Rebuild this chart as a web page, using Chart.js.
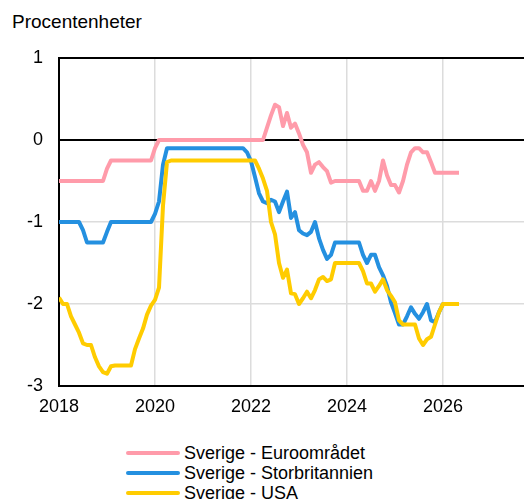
<!DOCTYPE html>
<html>
<head>
<meta charset="utf-8">
<script src="https://cdn.jsdelivr.net/npm/chart.js@4/dist/chart.umd.min.js"></script>
<style>
  html, body { margin: 0; padding: 0; background: #fff; overflow: hidden; }
  body { width: 524px; height: 499px; position: relative; font-family: "Liberation Sans", Arial, sans-serif; }
  #ytitle { position: absolute; left: 12px; top: 12px; font-size: 19px; line-height: 19px; color: #000; white-space: nowrap; }
  #chart { position: absolute; left: 0; top: 0; }
  #legend { position: absolute; left: 126px; top: 443px; }
  .row { display: flex; align-items: center; height: 20px; }
  .sw { width: 54px; height: 4px; margin-right: 4px; border-radius: 2px; }
  .lbl { font-size: 18px; line-height: 20px; color: #000; white-space: nowrap; }
</style>
</head>
<body>
<div id="ytitle">Procentenheter</div>
<canvas id="chart" width="524" height="440"></canvas>
<div id="legend"></div>
<script>
// Monthly observations, January 2018 to May 2026
const startYear = 2018;
const months = [];
for (let i = 0; i <= 100; i++) months.push(startYear + i / 12);

const seriesNames = ["Sverige - Euroområdet", "Sverige - Storbritannien", "Sverige - USA"];
const seriesColors = ["#FF9BAA", "#2490E0", "#FFCC00"];

const euroValues = [
  -0.5,-0.5,-0.5,-0.5,-0.5,-0.5,-0.5,-0.5,-0.5,-0.5,-0.5,-0.5,
  -0.35,
  -0.25,-0.25,-0.25,-0.25,-0.25,-0.25,-0.25,-0.25,-0.25,-0.25,-0.25,
  -0.1,
  0,0,0,0,0,0,0,0,0,0,0,0,0,0,0,0,0,0,0,0,0,0,0,0,0,0,0,
  0.15,0.3,0.43,0.4,0.17,0.33,0.15,0.2,0.08,-0.06,-0.15,-0.4,-0.3,-0.27,-0.33,-0.38,-0.52,-0.5,
  -0.5,-0.5,-0.5,-0.5,-0.5,-0.5,
  -0.62,-0.62,-0.5,-0.62,-0.5,-0.25,-0.43,-0.55,-0.55,-0.64,-0.5,-0.3,-0.15,-0.1,-0.1,-0.15,-0.15,-0.27,-0.4,
  -0.4,-0.4,-0.4,-0.4,-0.4,-0.4
];

const ukValues = [
  -1,-1,-1,-1,-1,-1,
  -1.1,-1.25,
  -1.25,-1.25,-1.25,-1.25,
  -1.12,
  -1,-1,-1,-1,-1,-1,-1,-1,-1,-1,-1,
  -0.9,-0.75,-0.3,-0.1,
  -0.1,-0.1,-0.1,-0.1,-0.1,-0.1,-0.1,-0.1,-0.1,-0.1,-0.1,-0.1,-0.1,-0.1,-0.1,-0.1,-0.1,-0.1,-0.1,
  -0.15,-0.26,-0.45,-0.65,-0.75,-0.77,-0.73,-0.75,-0.88,-0.75,-0.63,-0.95,-0.88,-1.1,-1.14,-1.16,-1.12,-1.0,-1.2,-1.34,-1.45,-1.4,-1.25,
  -1.25,-1.25,-1.25,-1.25,-1.25,-1.25,
  -1.4,-1.5,-1.4,-1.4,-1.55,-1.65,-1.78,-1.98,-2.11,-2.25,-2.25,-2.15,-2.04,-2.12,-2.18,-2.1,-2.0,-2.2,-2.22,-2.1,-2.0,
  -2.0,-2.0,-2.0,-2.0
];

const usaValues = [
  -1.92,-2.0,-2.0,-2.15,-2.25,-2.35,-2.48,-2.5,-2.5,-2.65,-2.76,-2.83,-2.85,-2.76,
  -2.75,-2.75,-2.75,-2.75,-2.75,
  -2.55,-2.42,-2.3,-2.13,-2.02,-1.95,-1.8,-0.8,-0.27,
  -0.25,-0.25,-0.25,-0.25,-0.25,-0.25,-0.25,-0.25,-0.25,-0.25,-0.25,-0.25,-0.25,-0.25,-0.25,-0.25,-0.25,-0.25,-0.25,-0.25,-0.25,-0.25,
  -0.35,-0.47,-0.62,-1.0,-1.15,-1.5,-1.68,-1.58,-1.87,-1.88,-2.0,-1.93,-1.85,-1.93,-1.83,-1.7,-1.67,-1.72,-1.7,-1.5,
  -1.5,-1.5,-1.5,-1.5,-1.5,-1.5,
  -1.6,-1.75,-1.75,-1.85,-1.78,-1.7,-1.83,-1.9,-1.98,-2.2,
  -2.25,-2.25,-2.25,-2.25,
  -2.42,-2.5,-2.43,-2.4,-2.25,-2.1,-2.0,
  -2.0,-2.0,-2.0,-2.0
];

const xTicks = [2018, 2020, 2022, 2024, 2026];
const yTicks = [-3, -2, -1, 0, 1];

const allValues = [euroValues, ukValues, usaValues];
const drawOrder = [3, 2, 1];

const datasets = allValues.map((vals, k) => ({
  label: seriesNames[k],
  data: vals.map((v, i) => ({ x: months[i], y: v })),
  borderColor: seriesColors[k],
  backgroundColor: seriesColors[k],
  borderWidth: 4,
  pointRadius: 0,
  tension: 0,
  borderJoinStyle: 'round',
  order: drawOrder[k]
}));

const tickFont = { family: "'Liberation Sans', Arial, sans-serif", size: 18 };

new Chart(document.getElementById('chart'), {
  type: 'line',
  data: { datasets },
  options: {
    responsive: false,
    animation: false,
    layout: { padding: { top: 58, right: 0, left: 0, bottom: 0 } },
    plugins: { legend: { display: false }, tooltip: { enabled: false } },
    scales: {
      x: {
        type: 'linear',
        min: 2018,
        max: 2027.6875,
        afterBuildTicks: s => { s.ticks = xTicks.map(v => ({ value: v })); },
        afterFit: s => { s.height = 54; },
        ticks: { font: tickFont, color: '#000', padding: 10, maxRotation: 0, callback: v => String(v) },
        grid: {
          drawTicks: false,
          color: c => (c.tick && c.tick.value === 2018) ? 'rgba(0,0,0,0)' : '#dcdcdc',
          lineWidth: 1.5
        },
        border: { color: '#000', width: 2 }
      },
      y: {
        min: -3,
        max: 1,
        afterBuildTicks: s => { s.ticks = yTicks.map(v => ({ value: v })); },
        afterFit: s => { s.width = 59; },
        ticks: { font: tickFont, color: '#000', padding: 16, callback: v => String(v) },
        grid: {
          drawTicks: false,
          color: c => (c.tick && (c.tick.value === 0 || c.tick.value === 1 || c.tick.value === -3)) ? '#000' : '#dcdcdc',
          lineWidth: c => (c.tick && (c.tick.value === 0 || c.tick.value === 1 || c.tick.value === -3)) ? 2 : 1.5
        },
        border: { color: '#000', width: 2 }
      }
    }
  }
});

// HTML legend
const legend = document.getElementById('legend');
seriesNames.forEach((name, k) => {
  const row = document.createElement('div');
  row.className = 'row';
  const sw = document.createElement('span');
  sw.className = 'sw';
  sw.style.background = seriesColors[k];
  const lbl = document.createElement('span');
  lbl.className = 'lbl';
  lbl.textContent = name;
  row.appendChild(sw);
  row.appendChild(lbl);
  legend.appendChild(row);
});
</script>
</body>
</html>
